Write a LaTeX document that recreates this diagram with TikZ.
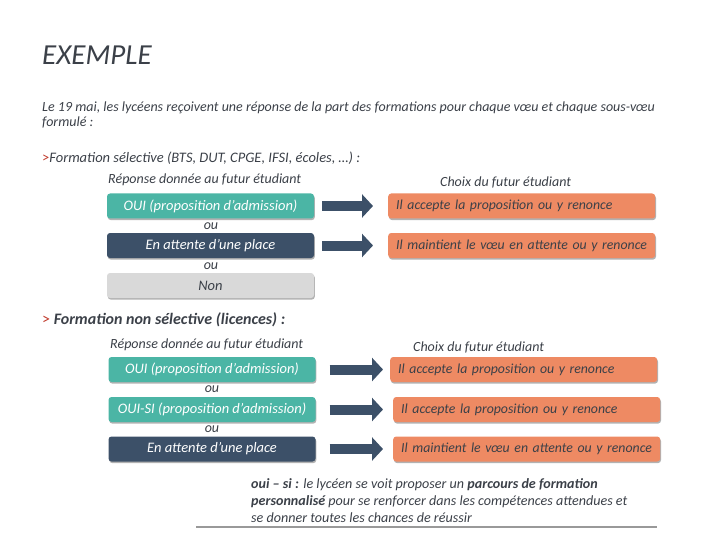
\documentclass[tikz,border=0pt]{standalone}
\usepackage{fontspec}
\setmainfont{Carlito}
\usepackage{tikz}
\usetikzlibrary{arrows.meta,positioning}
\definecolor{ouiteal}{RGB}{75,181,165}
\definecolor{waitnavy}{RGB}{60,80,104}
\definecolor{nongray}{RGB}{217,217,217}
\definecolor{choixorange}{RGB}{238,138,99}
\definecolor{textdark}{RGB}{59,64,72}
\definecolor{chevronred}{RGB}{192,57,43}

\begin{document}
\begin{tikzpicture}[x=1pt, y=-1pt, font=\fontsize{14}{15}\selectfont\itshape, text=textdark]
      \tikzstyle{shade}=[preaction={fill=black!30, transform canvas={shift={(0.8pt,-1.6pt)}}}]
      \tikzstyle{resp}=[rectangle,rounded corners=3pt,shade,inner sep=0pt,minimum width=207pt,minimum height=25pt,text=white,font=\fontsize{14.5}{15}\selectfont\itshape]
      \tikzstyle{oui}=[resp,fill=ouiteal]
      \tikzstyle{wait}=[resp,fill=waitnavy]
      \tikzstyle{non}=[resp,fill=nongray,text=textdark]
      \tikzstyle{choix}=[rectangle,rounded corners=3pt,shade,fill=choixorange,anchor=west,inner xsep=8pt,inner ysep=0pt,text width=251pt,align=left,minimum height=25pt,font=\fontsize{13.8}{15}\selectfont\itshape]
      \tikzstyle{ou}=[inner sep=0pt]
      \tikzstyle{label}=[anchor=west,inner sep=0pt]
      \tikzstyle{fleche}=[draw=waitnavy,line width=10pt,-{Triangle[length=11pt,width=23pt]}]

      \useasboundingbox (0,0) rectangle (720,540);

      % title and intro
      \node[anchor=base west,inner sep=0pt,font=\fontsize{29}{30}\selectfont\itshape] (titre) at (42,65) {EXEMPLE};
      \node[anchor=north west,inner sep=0pt,align=left] (intro) at (42,102) {Le 19 mai, les lycéens reçoivent une réponse de la part des formations pour chaque vœu et chaque sous-vœu\\formulé :};

      % formation selective
      \node[label,font=\fontsize{14.5}{15}\selectfont\itshape] (sel) at (42,158) {{\upshape\color{chevronred}>}Formation sélective (BTS, DUT, CPGE, IFSI, écoles, …) :};
      \node[label] (rep1) at (108,180) {Réponse donnée au futur étudiant};
      \node[label] (cho1) at (440,182) {Choix du futur étudiant};
      \node[oui] (oui1) at (210.5,206) {OUI (proposition d’admission)};
      \node[ou] (ou1) at (211,226) {ou};
      \node[wait] (att1) at (210.5,245.5) {En attente d’une place};
      \node[ou] (ou2) at (211,266) {ou};
      \node[non] (non1) at (210.5,285.5) {Non};
      \node[choix] (acc1) at (388,206) {Il accepte la proposition ou y renonce};
      \node[choix] (mai1) at (388,245.5) {Il maintient le vœu en attente ou y renonce};

      % formation non selective
      \node[label,font=\fontsize{16}{16}\selectfont\itshape\bfseries] (nonsel) at (42,320) {{\mdseries\upshape\color{chevronred}>} Formation non sélective (licences) :};
      \node[label] (rep2) at (110,345) {Réponse donnée au futur étudiant};
      \node[label] (cho2) at (413,347) {Choix du futur étudiant};
      \node[oui] (oui2) at (212,369.5) {OUI (proposition d’admission)};
      \node[ou] (ou3) at (212,389) {ou};
      \node[oui] (ouisi) at (212,409.5) {OUI-SI (proposition d’admission)};
      \node[ou] (ou4) at (212,429) {ou};
      \node[wait] (att2) at (212,449) {En attente d’une place};
      \node[choix] (acc2) at (390,369.5) {Il accepte la proposition ou y renonce};
      \node[choix] (acc3) at (393,409.5) {Il accepte la proposition ou y renonce};
      \node[choix] (mai2) at (393,449) {Il maintient le vœu en attente ou y renonce};

      % note
      \node[anchor=north west,inner sep=0pt,align=left,font=\fontsize{14.1}{17}\selectfont\itshape] (note) at (251,478) {\textbf{oui – si :} le lycéen se voit proposer un \textbf{parcours de formation}\\\textbf{personnalisé} pour se renforcer dans les compétences attendues et\\se donner toutes les chances de réussir};
      \coordinate (filetg) at (196,527);
      \coordinate (filetd) at (657,527);

      % arrows
      \draw[fleche,shorten <=8pt,shorten >=15pt] (oui1) -- (acc1);
      \draw[fleche,shorten <=8pt,shorten >=15pt] (att1) -- (mai1);
      \draw[fleche,shorten <=14pt,shorten >=7pt] (oui2) -- (acc2);
      \draw[fleche,shorten <=14pt,shorten >=10pt] (ouisi) -- (acc3);
      \draw[fleche,shorten <=14pt,shorten >=10pt] (att2) -- (mai2);
      \draw[black!40,line width=1.5pt] (filetg) -- (filetd);
    \end{tikzpicture}
\end{document}
